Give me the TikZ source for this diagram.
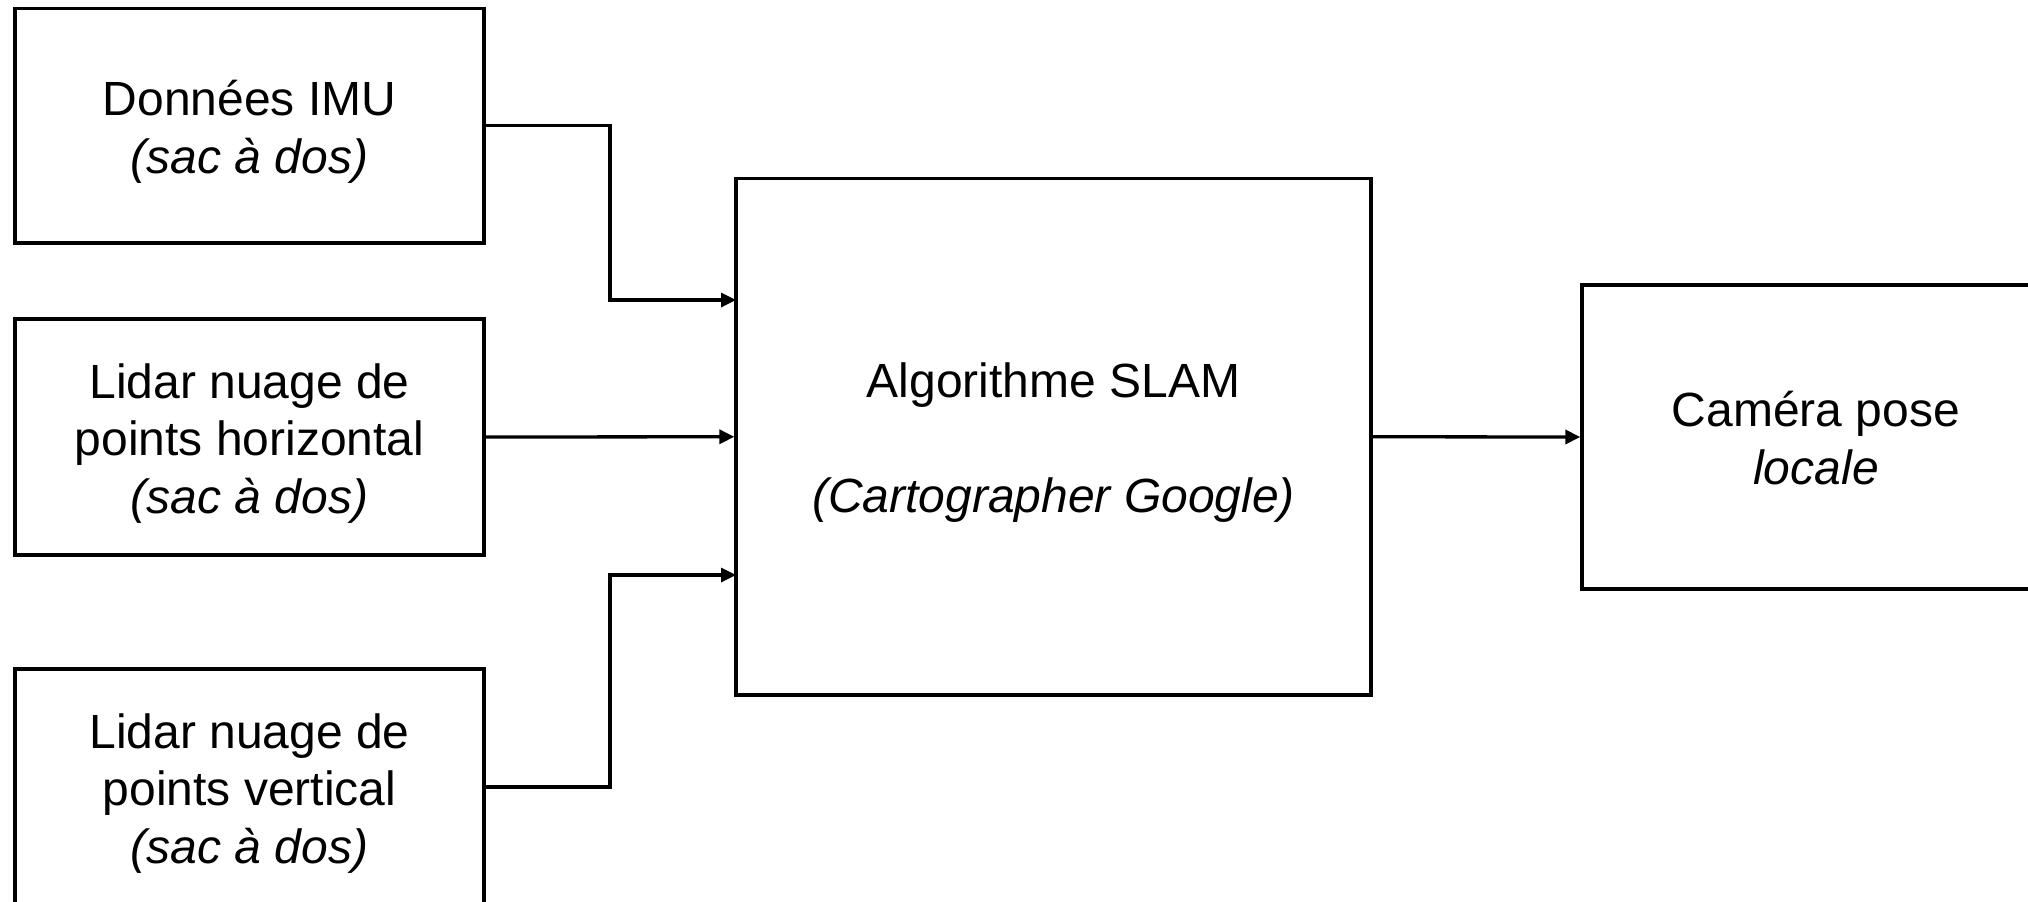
\documentclass[tikz,border=0pt]{standalone}
\usepackage{fontspec}
\setmainfont{Liberation Sans}
\usetikzlibrary{arrows.meta}
\newcommand\tst{\rule{0pt}{0.99em}}
\newcommand\bst{\rule[-0.212em]{0pt}{0.212em}}
\tikzset{
  blk/.style={draw=black, line width=1.65pt, rectangle, inner sep=0pt, align=center,
    font=\fontsize{24pt}{28.75pt}\selectfont},
  conn/.style={draw=black, line width=1.65pt, -{Triangle[length=7.5pt,width=7pt]}}
}
\begin{document}
\begin{tikzpicture}[x=0.5pt,y=-0.5pt]
\useasboundingbox (0,0) rectangle (2028,901);
\clip (0,0) rectangle (2028,901);
\fill[white] (0,0) rectangle (2028,901);
\node[blk, minimum width=234.5pt, minimum height=117.25pt] (imu) at (249.5,125.75)
  {\tst Données IMU\\\textit{(sac à dos)}\bst};
\node[blk, minimum width=234.5pt, minimum height=118pt] (lidh) at (249.5,437)
  {\tst Lidar nuage de\\points horizontal\\\textit{(sac à dos)}\bst};
\node[blk, minimum width=234.5pt, minimum height=118pt] (lidv) at (249.5,787)
  {\tst Lidar nuage de\\points vertical\\\textit{(sac à dos)}\bst};
\node[blk, minimum width=317.5pt, minimum height=258.25pt] (slam) at (1053.5,436.75)
  {\tst Algorithme SLAM\\[28.75pt]\textit{(Cartographer Google)}\bst};
\node[blk, minimum width=234pt, minimum height=152pt] (cam) at (1816,437)
  {\tst Caméra pose\\\textit{locale}\bst};
\coordinate (bus) at (610,0);
\coordinate (in1) at (736,300);
\coordinate (in3) at (736,575);
\draw[conn] (imu.east) -- (imu.east -| bus) |- (in1);
\draw[conn] (lidh.east) -- (slam.west);
\draw[conn] (lidv.east) -- (lidv.east -| bus) |- (in3);
\draw[conn] (slam.east) -- (cam.west);
\end{tikzpicture}
\end{document}
